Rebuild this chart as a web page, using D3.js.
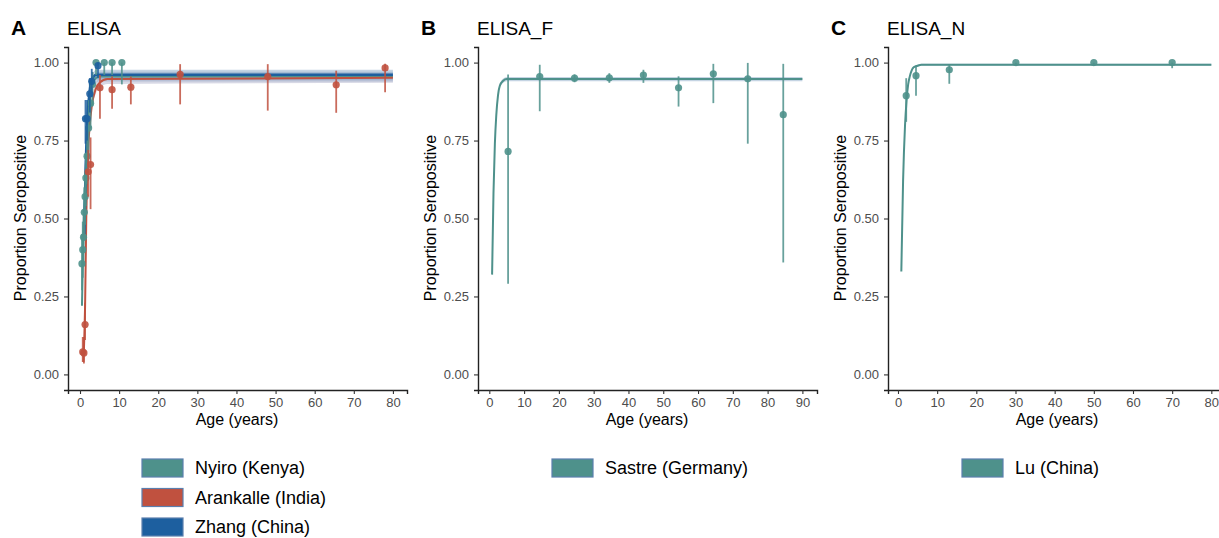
<!DOCTYPE html>
<html>
<head>
<meta charset="utf-8">
<script src="https://cdn.jsdelivr.net/npm/d3@7"></script>
<style>
  body { margin: 0; background: #fff; }
  svg { display: block; font-family: "Liberation Sans", Arial, Helvetica, sans-serif; }
</style>
</head>
<body>
<svg id="chart" width="1219" height="538"></svg>
<script>
"use strict"

//---------------- data ----------------//

// panel A : ELISA
const nyiroAge = [0.5, 0.7, 0.9, 1.1, 1.3, 1.5, 1.8, 2.2, 2.7, 3.2, 4.1, 6.2, 8.2, 10.7];
const nyiroVal = [0.355, 0.40, 0.44, 0.52, 0.57, 0.63, 0.70, 0.79, 0.87, 0.93, 1.0, 1.0, 1.0, 1.0];
const nyiroLo  = [0.27, 0.31, 0.35, 0.43, 0.48, 0.54, 0.61, 0.70, 0.79, 0.86, 0.96, 0.96, 0.96, 0.93];
const nyiroHi  = [0.45, 0.49, 0.53, 0.60, 0.65, 0.71, 0.78, 0.86, 0.93, 0.97, 1.0, 1.0, 1.0, 1.0];

const zhangAge = [1.4, 1.8, 2.5, 3.0, 4.6];
const zhangVal = [0.82, 0.82, 0.90, 0.94, 0.99];
const zhangLo  = [0.74, 0.75, 0.84, 0.89, 0.95];
const zhangHi  = [0.88, 0.88, 0.95, 0.98, 1.0];

const arankAge = [0.7, 1.0, 1.3, 2.1, 2.7, 5.1, 8.2, 13.0, 25.6, 48.0, 65.5, 78.0];
const arankVal = [0.072, 0.069, 0.16, 0.65, 0.673, 0.919, 0.913, 0.921, 0.962, 0.955, 0.929, 0.983];
const arankLo  = [0.04, 0.035, 0.11, 0.57, 0.53, 0.82, 0.852, 0.866, 0.866, 0.846, 0.839, 0.905];
const arankHi  = [0.12, 0.12, 0.23, 0.72, 0.76, 0.96, 0.955, 0.955, 0.995, 0.995, 0.974, 0.996];

// fitted curves, panel A
const nyiroFitAge = [0.5, 0.8, 1.0, 1.5, 2.0, 2.5, 3.0, 4.0, 5.0, 80];
const nyiroFitVal = [0.22, 0.40, 0.50, 0.68, 0.80, 0.88, 0.92, 0.95, 0.955, 0.955];
const zhangFitAge = [1.1, 1.5, 2.0, 2.5, 3.0, 3.5, 4.0, 5.0, 80];
const zhangFitVal = [0.45, 0.68, 0.84, 0.91, 0.945, 0.955, 0.96, 0.961, 0.961];
const arankFitAge = [0.9, 1.1, 1.3, 1.6, 2.0, 2.5, 3.0, 4.0, 5.0, 7.0, 80];
const arankFitVal = [0.04, 0.12, 0.22, 0.50, 0.70, 0.80, 0.86, 0.915, 0.935, 0.947, 0.951];

// panel B : ELISA_F
const sastreAge = [5.4, 14.5, 24.5, 34.5, 44.3, 54.4, 64.4, 74.3, 84.5];
const sastreVal = [0.715, 0.955, 0.950, 0.951, 0.960, 0.919, 0.964, 0.948, 0.833];
const sastreLo  = [0.291, 0.844, 0.937, 0.935, 0.935, 0.859, 0.870, 0.740, 0.359];
const sastreHi  = [0.962, 0.993, 0.962, 0.966, 0.977, 0.956, 0.996, 0.999, 0.996];
const sastreFitAge = [0.8, 1.2, 1.6, 2.0, 2.5, 3.0, 4.0, 5.0, 90];
const sastreFitVal = [0.32, 0.58, 0.74, 0.83, 0.895, 0.925, 0.942, 0.947, 0.947];

// panel C : ELISA_N
const luAge = [2.1, 4.6, 13.1, 30.1, 50.0, 70.0];
const luVal = [0.894, 0.958, 0.977, 1.0, 1.0, 1.0];
const luLo  = [0.81, 0.894, 0.932, 0.995, 0.995, 0.982];
const luHi  = [0.95, 0.99, 0.995, 1.0, 1.0, 1.0];
const luFitAge = [0.85, 1.3, 1.8, 2.2, 2.6, 3.0, 3.5, 4.0, 5.0, 6.0, 80];
const luFitVal = [0.33, 0.62, 0.80, 0.88, 0.93, 0.955, 0.975, 0.985, 0.99, 0.993, 0.993];

// half widths of the confidence ribbons
const bandA = 0.016;
const bandB = 0.007;
const bandC = 0.003;

const yTicks = [0, 0.25, 0.5, 0.75, 1];
const xTicksA = [0, 10, 20, 30, 40, 50, 60, 70, 80];
const xTicksB = [0, 10, 20, 30, 40, 50, 60, 70, 80, 90];
const xTicksC = [0, 10, 20, 30, 40, 50, 60, 70, 80];

//colours of the studies
const teal = '#4e918b';
const red = '#c0513f';
const blue = '#1d5f9f';

//---------------- helpers ----------------//

const zip = (ages, vals, lo, hi) => ages.map((a, i) => ({ age: a, val: vals[i], lo: lo ? lo[i] : null, hi: hi ? hi[i] : null }));

const panels = [
    {
        letter: 'A', title: 'ELISA', dx: 0, xDomain: [-3.07, 83.6], xTicks: xTicksA,
        series: [
            { name: 'Nyiro (Kenya)', color: teal, pts: zip(nyiroAge, nyiroVal, nyiroLo, nyiroHi), fit: zip(nyiroFitAge, nyiroFitVal), band: bandA },
            { name: 'Arankalle (India)', color: red, pts: zip(arankAge, arankVal, arankLo, arankHi), fit: zip(arankFitAge, arankFitVal), band: bandA },
            { name: 'Zhang (China)', color: blue, pts: zip(zhangAge, zhangVal, zhangLo, zhangHi), fit: zip(zhangFitAge, zhangFitVal), band: bandA }
        ]
    },
    {
        letter: 'B', title: 'ELISA_F', dx: 410, xDomain: [-3.25, 94.2], xTicks: xTicksB,
        series: [
            { name: 'Sastre (Germany)', color: teal, pts: zip(sastreAge, sastreVal, sastreLo, sastreHi), fit: zip(sastreFitAge, sastreFitVal), band: bandB }
        ]
    },
    {
        letter: 'C', title: 'ELISA_N', dx: 820, xDomain: [-2.55, 84.0], xTicks: xTicksC,
        series: [
            { name: 'Lu (China)', color: teal, pts: zip(luAge, luVal, luLo, luHi), fit: zip(luFitAge, luFitVal), band: bandC }
        ]
    }
];

const svg = d3.select('#chart');

// y scale shared by all panels (ggplot default 5% expansion)
const y = d3.scaleLinear().domain([-0.05, 1.05]).range([390, 47]);

panels.forEach(p => {
    const g = svg.append('g').attr('transform', `translate(${p.dx},0)`);
    const x = d3.scaleLinear().domain(p.xDomain).range([68, 407]);

    //panel letter and title
    g.append('text').attr('x', 11).attr('y', 35)
        .style('font-size', '21px').style('font-weight', 'bold').text(p.letter);
    g.append('text').attr('x', 67).attr('y', 35)
        .style('font-size', '19px').text(p.title);

    //axes
    const yAxis = g.append('g').attr('transform', 'translate(68,0)')
        .call(d3.axisLeft(y).tickValues(yTicks).tickFormat(d3.format('.2f')).tickSize(4).tickPadding(5));
    const xAxis = g.append('g').attr('transform', 'translate(0,390)')
        .call(d3.axisBottom(x).tickValues(p.xTicks).tickSize(4).tickPadding(4));
    [yAxis, xAxis].forEach(ax => {
        ax.select('.domain').attr('stroke', '#222').attr('stroke-width', 1.4);
        ax.selectAll('.tick line').attr('stroke', '#333').attr('stroke-width', 1.1);
        ax.selectAll('.tick text').attr('fill', '#4d4d4d')
            .style('font-size', '13px').style('font-family', '"Liberation Sans", Arial, sans-serif');
    });

    //axis titles
    g.append('text').attr('transform', 'translate(26,218) rotate(-90)')
        .attr('text-anchor', 'middle').style('font-size', '16px').text('Proportion Seropositive');
    g.append('text').attr('x', 237).attr('y', 425)
        .attr('text-anchor', 'middle').style('font-size', '16px').text('Age (years)');

    const plot = g.append('g');

    //confidence ribbons round the fitted curves
    p.series.forEach(s => {
        const ribbon = d3.area()
            .x(d => x(d.age))
            .y0(d => y(Math.max(0, d.val - s.band)))
            .y1(d => y(Math.min(1, d.val + s.band)))
            .curve(d3.curveMonotoneX);
        plot.append('path').datum(s.fit)
            .attr('d', ribbon)
            .attr('fill', s.color === red ? '#a7a9c6' : '#7f9fc0')
            .attr('fill-opacity', 0.45);
    });

    //fitted curves
    const line = d3.line().x(d => x(d.age)).y(d => y(d.val)).curve(d3.curveMonotoneX);
    p.series.forEach(s => {
        plot.append('path').datum(s.fit)
            .attr('d', line)
            .attr('fill', 'none')
            .attr('stroke', s.color)
            .attr('stroke-width', s.color === blue ? 2.6 : 2);
    });

    //error bars and points
    p.series.forEach(s => {
        plot.selectAll(null).data(s.pts).join('line')
            .attr('x1', d => x(d.age)).attr('x2', d => x(d.age))
            .attr('y1', d => y(d.lo)).attr('y2', d => y(d.hi))
            .attr('stroke', s.color).attr('stroke-width', 1.8).attr('stroke-opacity', 0.85);
        plot.selectAll(null).data(s.pts).join('circle')
            .attr('cx', d => x(d.age)).attr('cy', d => y(d.val))
            .attr('r', 3.6)
            .attr('fill', s.color).attr('fill-opacity', 0.9);
    });

    //legend
    const leg = g.append('g');
    p.series.forEach((s, i) => {
        const top = 459 + i * 29.5;
        leg.append('rect')
            .attr('x', 142).attr('y', top).attr('width', 41).attr('height', 18)
            .attr('fill', s.color)
            .attr('stroke', '#5b7fae').attr('stroke-width', 1.2);
        leg.append('text')
            .attr('x', 195).attr('y', top + 15)
            .style('font-size', '18px').text(s.name);
    });
});
</script>
</body>
</html>
